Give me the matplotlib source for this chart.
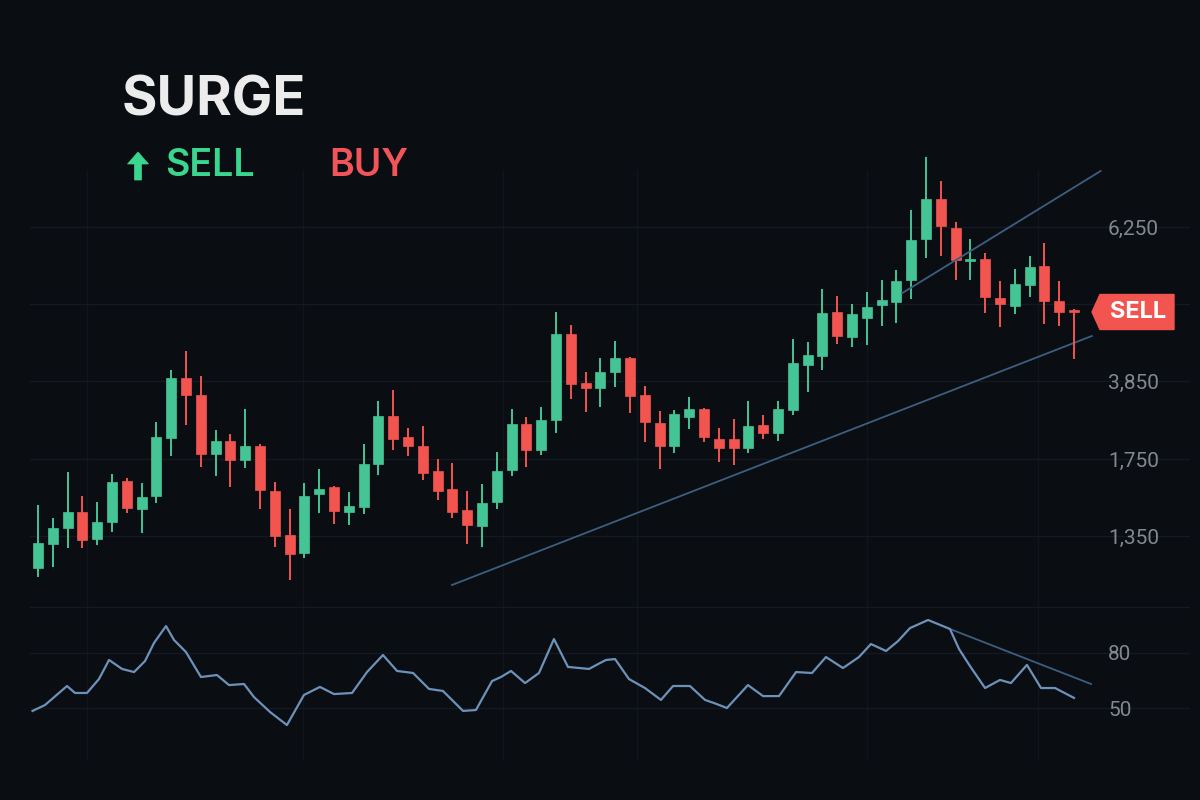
import matplotlib
matplotlib.use("Agg")
import matplotlib.pyplot as plt
from matplotlib.patches import Polygon
import numpy as np

# ---------------- data ----------------
# price in chart units (higher = up); candles: open, high, low, close
opens = [32, 56, 72, 88, 61, 78, 119, 91, 104, 162, 222, 205, 146, 159, 140, 154, 109, 65,
         47, 106, 113, 88, 93, 136, 184, 163, 154, 129, 111, 90, 74, 98, 130, 176, 150, 180,
         266, 217, 212, 228, 242, 205, 177, 154, 183, 191, 161, 161, 152, 175, 167, 190, 235,
         244, 288, 263, 282, 295, 298, 320, 361, 401, 372, 339, 341, 302, 294, 315, 334, 299, 290]
highs = [95, 82, 128, 104, 98, 126, 122, 117, 178, 230, 249, 224, 170, 166, 191, 156, 118, 91,
         117, 131, 114, 108, 156, 199, 210, 172, 174, 141, 137, 109, 116, 148, 191, 183, 193, 288,
         275, 228, 242, 259, 243, 214, 189, 190, 203, 192, 172, 181, 199, 185, 199, 261, 258,
         311, 304, 296, 308, 320, 330, 390, 443, 419, 378, 361, 347, 319, 331, 344, 357, 319, 291]
lows = [23, 33, 52, 52, 55, 68, 87, 67, 97, 144, 175, 133, 124, 113, 132, 91, 53, 20,
        42, 87, 76, 75, 86, 125, 150, 144, 120, 100, 82, 56, 53, 91, 124, 133, 145, 167,
        201, 188, 193, 213, 187, 158, 131, 147, 171, 158, 138, 135, 147, 161, 159, 185, 208,
        230, 256, 253, 255, 274, 277, 301, 342, 344, 320, 320, 287, 273, 286, 303, 276, 274, 241]
closes = [57, 72, 88, 60, 78, 118, 92, 103, 163, 222, 205, 146, 159, 140, 154, 110, 64, 46,
          104, 111, 89, 94, 136, 184, 161, 154, 127, 109, 88, 75, 97, 129, 176, 150, 180, 266,
          216, 212, 228, 242, 204, 178, 154, 186, 191, 163, 152, 152, 174, 167, 191, 237, 245,
          287, 264, 286, 293, 300, 319, 360, 401, 374, 340, 341, 303, 296, 316, 333, 299, 288, 288]

price_ticks = [64, 141, 219, 296, 373]
price_labels = ["1,350", "1,750", "3,850", "", "6,250"]

# oscillator (session position, value)
osc_x = [-0.37, 0.47, 1.96, 2.5, 3.31, 4.12, 4.8, 5.68, 6.49, 7.23, 7.84, 8.65, 9.19, 10.0,
         11.01, 12.09, 12.91, 13.92, 14.59, 15.68, 16.82, 17.97, 19.05, 20.0, 21.22, 22.23,
         23.31, 24.26, 25.34, 26.42, 27.36, 28.72, 29.59, 30.68, 31.28, 31.96, 32.91, 33.85,
         34.86, 35.81, 37.23, 37.97, 38.38, 38.99, 39.93, 41.01, 42.09, 42.91, 44.05, 45.07,
         45.68, 46.55, 47.97, 48.99, 50.07, 51.22, 52.3, 53.24, 54.39, 55.47, 56.28, 57.3,
         58.11, 58.92, 60.14, 61.62, 62.23, 62.97, 63.99, 65.0, 65.74, 66.82, 67.77, 68.72, 70.0]
osc_y = [48.4, 51.6, 62.0, 58.2, 58.2, 65.8, 76.2, 71.3, 69.6, 75.6, 85.5, 94.7, 87.1, 80.5,
         66.9, 68.0, 62.5, 63.1, 56.0, 47.8, 40.7, 57.1, 61.5, 57.6, 58.2, 69.6, 78.9, 70.2,
         69.1, 60.4, 59.3, 48.4, 48.9, 64.7, 66.9, 70.2, 63.6, 69.1, 87.6, 72.4, 71.3, 74.5,
         76.2, 76.7, 65.8, 60.9, 54.4, 62.0, 62.0, 54.4, 52.7, 50.0, 62.5, 56.5, 56.5, 69.6,
         69.1, 77.8, 71.8, 77.8, 84.9, 81.1, 86.5, 93.6, 98.0, 93.1, 82.2, 72.9, 60.9, 65.3,
         63.6, 73.5, 60.9, 60.9, 55.5]
osc_ticks = [50, 80, 105]
osc_labels = ["50", "80", ""]

# trend lines (session position, value)
support_x = [27.97, 71.2]
support_y = [15, 264]
upper_x = [58.4, 71.8]
upper_y = [307, 429]
osc_trend_x = [61.62, 71.15]
osc_trend_y = [93.1, 63.1]

vgrid_x = [3.3, 17.9, 31.4, 40.5, 56.0, 67.6]

# ---------------- style ----------------
BG = "#0a0d12"
GRID = "#141a22"
VGRID = "#11161d"
GREEN = "#45c495"
RED = "#f25450"
TXT_GREEN = "#3ad68f"
TXT_RED = "#f1555a"
LINE = "#6d92ba"
TREND = "#3d5e80"
TICK = "#83878e"

W, H = 1200, 800
fig = plt.figure(figsize=(12, 8), dpi=100, facecolor=BG)

step = 14.8          # px per session
x0px = 38            # px of session 0
left_px, right_px = 30, 1190


def xl(px):
    return (px - x0px) / step


# main price axes: px y 100..600, value = 600 - py
ax = fig.add_axes([left_px / W, (H - 600) / H, (right_px - left_px) / W, 500 / H])
ax.set_facecolor(BG)
ax.set_xlim(xl(left_px), xl(right_px))
ax.set_ylim(0, 500)

# lower oscillator axes: px y 600..760
k = 30 / 55
osc = fig.add_axes([left_px / W, (H - 760) / H, (right_px - left_px) / W, 160 / H])
osc.set_facecolor(BG)
osc.set_xlim(xl(left_px), xl(right_px))
osc.set_ylim(50 + (708 - 760) * k, 50 + (708 - 600) * k)

for a in (ax, osc):
    for s in a.spines.values():
        s.set_visible(False)
    a.set_xticks([])
    a.yaxis.tick_right()
    a.tick_params(axis="y", length=0, pad=-59, labelcolor=TICK, labelsize=15)
    a.grid(axis="y", color=GRID, lw=1.0)
    a.set_axisbelow(True)

ax.set_yticks(price_ticks, price_labels, fontfamily="Roboto")
osc.set_yticks(osc_ticks, osc_labels, fontfamily="Roboto")
for lab in ax.get_yticklabels() + osc.get_yticklabels():
    lab.set_horizontalalignment("left")

for gx in vgrid_x:
    ax.axvline(gx, ymin=0, ymax=(600 - 170) / 500, color=VGRID, lw=1.0, zorder=0)
    osc.axvline(gx, color=VGRID, lw=1.0, zorder=0)

# candles
idx = np.arange(len(opens))
o = np.array(opens, float)
c = np.array(closes, float)
hi = np.array(highs, float)
lo = np.array(lows, float)
up = c >= o
cols = np.where(up, GREEN, RED)
ax.vlines(idx, lo, hi, colors=cols, lw=1.4, zorder=2)
body_h = np.maximum(np.abs(c - o), 2.0)
ax.bar(idx, body_h, bottom=np.minimum(o, c), width=0.68, color=cols, zorder=3,
       edgecolor=cols, linewidth=0.5)

# trend lines
ax.plot(support_x, support_y, color=TREND, lw=1.3, zorder=1)
ax.plot(upper_x, upper_y, color=TREND, lw=1.3, zorder=4)

# oscillator
osc.plot(osc_x, osc_y, color=LINE, lw=1.6, zorder=3)
osc.plot(osc_trend_x, osc_trend_y, color=TREND, lw=1.3, zorder=2)

# SELL tag anchored to last close
last = len(closes) - 1
yc = closes[-1]
tip = last + (1092 - 1074) / step
lft = last + (1100 - 1074) / step
rgt = last + (1174 - 1074) / step
hh = 17.5
tag = Polygon([[tip, yc], [lft, yc + hh], [rgt, yc + hh], [rgt, yc - hh], [lft, yc - hh]],
              closed=True, facecolor=RED, edgecolor=RED, lw=1, joinstyle="round", zorder=6)
ax.add_patch(tag)
ax.text((lft + rgt) / 2 + 0.05, yc, "SELL", color="white", fontsize=17, fontweight="bold",
        fontfamily="Inter", ha="center", va="center", zorder=7)

# header texts
fig.text(122 / W, 1 - 101 / H, "SURGE", color="#ececec", fontsize=39, fontweight="bold",
         fontfamily="Inter", ha="left", va="center")
# thick up-arrow glyph drawn as a polygon in figure pixels
arrow_px = [(138, 152), (148.5, 164), (141.5, 164), (141.5, 180), (134.5, 180),
            (134.5, 164), (127.5, 164)]
fig.patches.append(Polygon([(px / W, 1 - py / H) for px, py in arrow_px], closed=True,
                           transform=fig.transFigure, facecolor=TXT_GREEN,
                           edgecolor=TXT_GREEN, lw=0.5))
fig.text(165 / W, 1 - 166 / H, "SELL", color=TXT_GREEN, fontsize=27, fontweight="semibold",
         fontfamily="Inter", ha="left", va="center")
fig.text(329 / W, 1 - 166 / H, "BUY", color=TXT_RED, fontsize=27, fontweight="semibold",
         fontfamily="Inter", ha="left", va="center")

fig.savefig("out.png", dpi=100, facecolor=BG)
